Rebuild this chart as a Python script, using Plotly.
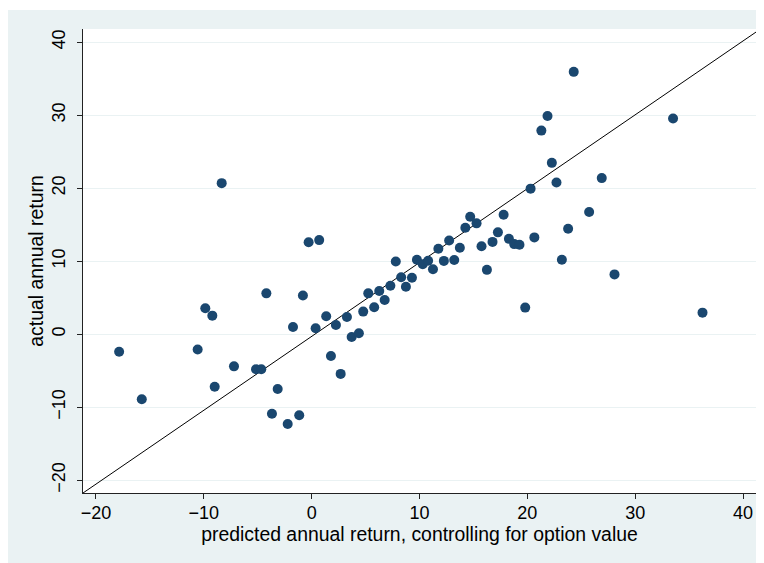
import plotly.graph_objects as go

# predicted annual return (x) and actual annual return (y)
predicted = [-17.85, -15.75, -8.34, -9.86, -9.21, -10.57, -8.99, -7.2, -5.16, -4.67,
             -4.2, -3.15, -3.68, -2.22, -1.73, -1.15, -0.81, -0.28, 0.7, 0.37,
             1.35, 1.79, 2.25, 2.69, 3.27, 3.71, 4.38, 4.78, 5.25, 5.8,
             6.27, 6.77, 7.3, 7.8, 8.3, 8.74, 9.3, 9.76, 10.3, 10.8,
             11.25, 11.75, 12.26, 12.75, 13.22, 13.74, 14.25, 14.7, 15.29, 15.75,
             16.25, 16.77, 17.27, 17.8, 18.29, 18.78, 19.27, 19.8, 20.3, 20.65,
             21.3, 21.87, 22.27, 22.7, 23.2, 23.78, 24.3, 25.73, 26.9, 28.08,
             33.51, 36.24]
actual = [-2.4, -8.9, 20.7, 3.56, 2.55, -2.1, -7.2, -4.4, -4.8, -4.8,
          5.6, -7.5, -10.9, -12.3, 1.0, -11.1, 5.3, 12.6, 12.9, 0.82,
          2.46, -2.97, 1.27, -5.43, 2.37, -0.37, 0.14, 3.1, 5.6, 3.7,
          5.93, 4.7, 6.65, 9.97, 7.8, 6.5, 7.75, 10.2, 9.6, 10.07,
          8.9, 11.72, 10.05, 12.84, 10.17, 11.85, 14.6, 16.1, 15.19, 12.06,
          8.82, 12.65, 13.96, 16.37, 13.07, 12.35, 12.27, 3.65, 19.95, 13.27,
          27.9, 29.9, 23.48, 20.8, 10.2, 14.45, 35.95, 16.74, 21.39, 8.2,
          29.56, 2.96]

# 45-degree reference line endpoints
diag_x = [-21.2, 41.2]
diag_y = [-21.75, 41.4]

tick_vals = [-20, -10, 0, 10, 20, 30, 40]
tick_text = ["\u221220", "\u221210", "0", "10", "20", "30", "40"]

BG = "#EAF2F3"
NAVY = "#1A476F"
FONT = "Liberation Sans, Arial, sans-serif"

fig = go.Figure()
fig.add_trace(go.Scatter(x=diag_x, y=diag_y, mode="lines",
                         line=dict(color="black", width=1), hoverinfo="skip",
                         showlegend=False))
fig.add_trace(go.Scatter(x=predicted, y=actual, mode="markers",
                         marker=dict(color=NAVY, size=10, line=dict(width=0)),
                         showlegend=False))

fig.update_layout(
    width=756, height=555,
    margin=dict(l=75, r=8, t=21, b=70, pad=0),
    paper_bgcolor="white", plot_bgcolor="white",
    font=dict(family=FONT, size=18, color="black"),
    shapes=[
        dict(type="rect", xref="paper", yref="paper", x0=-0.12, x1=1.02,
             y0=-0.16, y1=1.0409, fillcolor=BG, line=dict(width=0), layer="below"),
        dict(type="rect", xref="paper", yref="paper", x0=0, x1=1,
             y0=0, y1=1, fillcolor="white", line=dict(width=0), layer="below"),
    ],
    xaxis=dict(range=[-21.2, 41.2], tickvals=tick_vals, ticktext=tick_text,
               showgrid=False, zeroline=False, showline=True, linecolor="#222",
               linewidth=1, ticks="outside", ticklen=5, tickcolor="#222",
               tickfont=dict(size=18), ticklabelstandoff=-2,
               title=dict(text="predicted annual return, controlling for option value",
                          font=dict(size=19.4), standoff=2)),
    yaxis=dict(range=[-21.75, 41.82], tickvals=tick_vals, ticktext=tick_text,
               showgrid=True, gridcolor=BG, gridwidth=1, zeroline=False,
               showline=True, linecolor="#222", linewidth=1, ticks="outside",
               ticklen=5, tickcolor="#222", tickangle=-90,
               tickfont=dict(size=18), ticklabelstandoff=5,
               title=dict(text="actual annual return", font=dict(size=19.4), standoff=0)),
)

fig.write_html("out.html")
